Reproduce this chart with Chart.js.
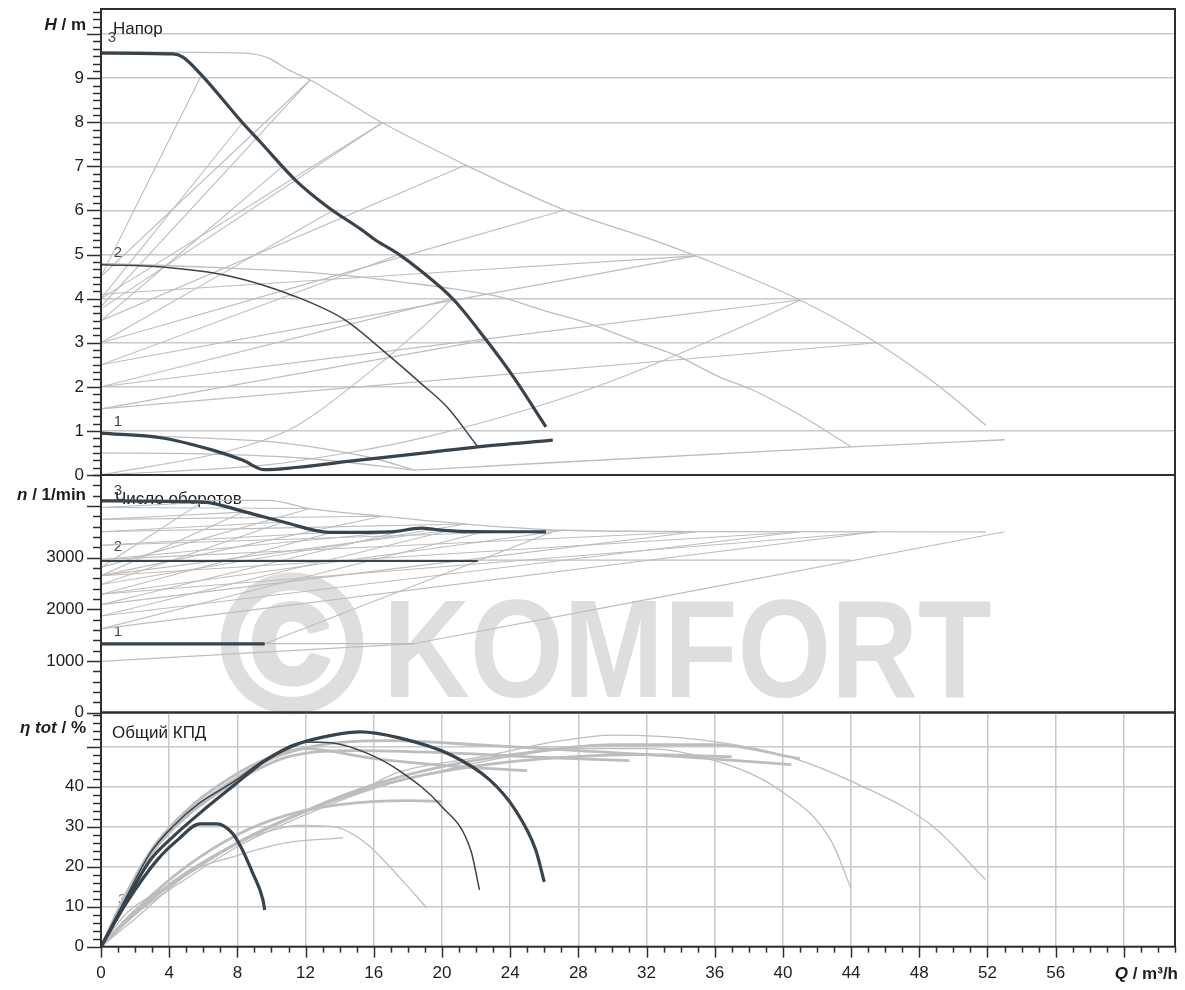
<!DOCTYPE html>
<html>
<head>
<meta charset="utf-8">
<script src="https://cdn.jsdelivr.net/npm/chart.js@4.4.1/dist/chart.umd.min.js"></script>
<style>
html, body { margin: 0; padding: 0; background: #fff; }
body { width: 1185px; height: 990px; position: relative; overflow: hidden; }
canvas { position: absolute; left: 0; }
</style>
</head>
<body>
<canvas id="headChart" width="1185" height="525" style="top:-20px;width:1185px;height:525px"></canvas>
<canvas id="speedChart" width="1185" height="298" style="top:445px;width:1185px;height:298px"></canvas>
<canvas id="effChart" width="1185" height="308" style="top:682px;width:1185px;height:308px"></canvas>
<script>
// ---- head H / m over Q / m³/h ----
const head3 = [[0,9.57],[4.2,9.55],[4.8,9.48],[5.9,9.07],[8.3,7.99],[9.4,7.53],[11.4,6.69],[13.3,6.08],[15.3,5.56],[16.1,5.33],[17.5,5.0],[18.7,4.65],[20.7,3.97],[22.6,3.06],[24.2,2.22],[26.1,1.09]];
const head2 = [[0,4.77],[3.6,4.72],[7.45,4.52],[11.4,4.05],[14.3,3.52],[16.7,2.77],[18.85,2.05],[20.3,1.54],[22.1,0.64]];
const head1 = [[0,0.95],[3.6,0.84],[6.5,0.57],[8.3,0.34],[9.6,0.12],[11.4,0.17],[15,0.33],[19,0.5],[22.1,0.64],[26.5,0.79]];
const headMax = [[0,9.6],[8.45,9.57],[9.8,9.46],[11.0,9.19],[12.27,8.96],[16.5,7.99],[19.0,7.49],[21.4,7.03],[27.2,6.01],[32.4,5.33],[34.9,4.97],[41.0,3.97],[45.5,3.0],[49.2,2.0],[51.9,1.13]];
const headMid = [[0,4.8],[7.1,4.7],[12.7,4.58],[15.7,4.47],[18.0,4.36],[20.7,4.22],[23.4,4.04],[25.9,3.74],[28.5,3.45],[31.2,3.06],[33.8,2.7],[36.3,2.22],[38.1,1.95],[41.0,1.36],[44.0,0.64]];
const headLow = [[0,0.93],[7.1,0.82],[10.1,0.75],[13.0,0.6],[16.0,0.38],[18.4,0.11]];
const headLow2 = [[0,0.5],[6,0.48],[12,0.38],[18.4,0.11]];
const headLimit = [[18.4,0.11],[44.0,0.64],[53.0,0.8]];
const dpvHeadSmall = [[[0,4.5],[5.9,9.07]],[[0,4.0],[8.3,7.99]],[[0,3.5],[10.66,7.0]],[[0,3.0],[13.6,6.0]],[[0,2.5],[17.5,5.0]],[[0,2.0],[20.6,4.0]],[[0,1.5],[22.6,3.06]]];
const dpvHeadBig = [[[0,4.5],[12.27,8.96]],[[0,4.0],[16.5,7.99]],[[0,3.5],[21.4,7.03]],[[0,3.0],[27.2,6.01]],[[0,2.5],[34.9,4.97]],[[0,2.0],[41.0,3.97]],[[0,1.5],[45.5,3.0]]];
const extraHeadLines = [[[0,3.82],[12.27,8.96]],[[0,3.77],[16.5,7.99]],[[0,4.1],[34.9,4.97]]];
const systemHead = [
  [[0,0],[10,0.24],[15,0.54],[18.6,0.82],[25.2,1.51],[30,2.14],[38.1,3.45],[41,3.97]],
  [[0,0],[8,0.6],[11.4,1.1],[15,2.1],[19,3.4],[20.6,4.0]]
];

// ---- speed n / 1/min ----
const speedTicks = [0, 1000, 2000, 3000, 4000];
const speed3 = [[0,4100],[6.0,4075],[8.5,3880],[10.7,3690],[13.4,3490],[17.0,3500],[18.8,3570],[19.6,3545],[21.0,3510],[26.1,3500]];
const speed2 = [[0,2935],[22.1,2935]];
const speed1 = [[0,1330],[9.6,1330]];
const speedMax = [[0,4110],[9.8,4110],[12.27,3950],[16.5,3800],[21.4,3650],[27.2,3530],[34.9,3505],[51.9,3500]];
const speedMid = [[0,2950],[44.0,2950]];
const speedLow = [[0,1335],[18.4,1335]];
const speedLow2 = [[0,990],[18.4,1335]];
const speedLimits = [[[18.4,1335],[53.0,3500]],[[9.6,1330],[26.5,3500]]];
const dpvSpeedSmall = [[[0,2810],[5.9,4070]],[[0,2650],[8.3,3880]],[[0,2480],[10.7,3690]],[[0,2290],[13.6,3490]],[[0,2090],[17.5,3500]],[[0,1870],[20.6,3540]],[[0,1620],[22.6,3510]]];
const dpvSpeedBig = [[[0,2810],[12.27,3950]],[[0,2650],[16.5,3800]],[[0,2480],[21.4,3650]],[[0,2290],[27.2,3530]],[[0,2090],[34.9,3500]],[[0,1870],[41,3500]],[[0,1620],[45.5,3500]]];
const dpcSpeedSmall = [[[0,3970],[5.9,4070]],[[0,3740],[8.3,3880]],[[0,3500],[10.7,3690]],[[0,3240],[13.6,3490]],[[0,2960],[17.5,3500]],[[0,2650],[20.6,3540]]];
const dpcSpeedBig = [[[0,3970],[12.27,3950]],[[0,3740],[16.5,3800]],[[0,3500],[21.4,3650]],[[0,3240],[27.2,3530]],[[0,2960],[34.9,3500]],[[0,2650],[41,3500]],[[0,2290],[45.5,3500]]];

// ---- total efficiency η / % ----
const eff3 = [[0,0],[1.5,11.7],[2.9,21.7],[4.2,27.4],[5.8,33.4],[7.7,40],[9.7,46.7],[11.7,50.9],[13.6,52.9],[15.2,53.7],[17.5,52.2],[20.5,48],[22.8,41.7],[24.3,34.2],[25.5,24.2],[26,16.2]];
const eff2 = [[0,0],[1.5,12.5],[2.9,23.5],[4.2,30],[5.8,36],[7.7,41],[9.7,47],[12,51.2],[13.5,51],[15.6,48.4],[17.5,44],[19.9,35.4],[21.7,24],[22.2,14.2]];
const eff1 = [[0,0],[1.5,11],[3.3,21.7],[4.5,26.7],[5.8,30.7],[6.8,30.7],[7.7,28.4],[8.2,25],[8.9,18.4],[9.5,11.7],[9.6,9.2]];
const effMax = [[0,0],[1.5,8.4],[3.9,15],[7.7,25],[11.7,33.4],[15.6,40],[17.5,43.7],[22.2,47.4],[27,51.5],[30,52.9],[35.2,51.7],[40.4,47.4],[44.5,40.4],[48.7,30.4],[51.9,16.7]];
const effMid = [[0,0],[2,8],[5,17],[8,25],[12,33],[16,39.5],[20,44],[24,47.5],[28,49.5],[32,49.5],[36,46.5],[39.8,39.2],[42.8,26.7],[44,14.5]];
const effLow = [[0,0],[2,8],[4,15],[6,21],[8,26],[10,29],[11.5,30.3],[13.6,30],[15.5,26],[17.5,17.4],[19.1,9.7]];
const effLow2 = [[0,0],[2,7],[5.4,19],[7.7,22.4],[10.9,26],[14.2,27.2]];
const effUpper = [
  [[0,0],[1.5,13],[3,24],[5,33],[7.7,41.5],[10,47],[13,50.5],[17,51.5],[22,50.5],[28,49],[34,47.5],[40.5,45.5]],
  [[0,0],[1.5,12.5],[3,23.5],[5,32.5],[8,41.5],[11,47.5],[15,49],[20,48.5],[26,47.3],[31,46.5]],
  [[0,0],[1.5,13.5],[3,24.5],[5,34],[7.5,42],[10,47.5],[12,49.5],[16,47],[21,45],[25,44]]
];
const effLower = [
  [[0,0],[2,8.5],[5,18.5],[9,28],[13,35.5],[17,41],[21,44.5],[26,47],[32,48],[37,47.5]],
  [[0,0],[2,9],[5,18],[8,26],[12,34],[16,40.5],[20,45],[25,48.5],[30,50.5],[36,50.5],[41,47]],
  [[0,0],[2,9],[5,20],[8,28],[11,33],[14,35.5],[18,36.5],[20,36.3]]
];

const DARK = '#37434d', GRAY = '#bdbdbd', GRID = '#c8c8c8', FRAME = '#2e2e2e', TEXT = '#1e1e1e', LABEL = '#3b4756';
const FONT = "'Liberation Sans', Arial, sans-serif";
Chart.defaults.font.family = FONT;
Chart.defaults.font.size = 17;
Chart.defaults.color = TEXT;

const xy = pts => pts.map(p => ({ x: p[0], y: p[1] }));
const lines = (list, color, width, order) => list.map(pts => ({ data: xy(pts), showLine: true, borderColor: color, borderWidth: width, order }));

function drawParts(ctx, parts, xRight, y) {
  let w = 0;
  parts.forEach(p => { ctx.font = p[1]; w += ctx.measureText(p[0]).width; });
  let x = xRight - w;
  ctx.textAlign = 'left';
  ctx.textBaseline = 'middle';
  parts.forEach(p => { ctx.font = p[1]; ctx.fillText(p[0], x, y); x += ctx.measureText(p[0]).width; });
}

// frame, minor ticks, axis titles, curve labels, watermark
const panelDeco = {
  id: 'panelDeco',
  beforeDatasetsDraw(chart, args, o) {
    const { ctx, chartArea: a, scales } = chart;
    ctx.save();
    if (o.watermark) {
      ctx.fillStyle = '#dedede';
      ctx.strokeStyle = '#dedede';
      ctx.lineWidth = 7;
      ctx.lineJoin = 'round';
      ctx.textBaseline = 'alphabetic';
      ctx.textAlign = 'center';
      ctx.font = 'bold 192px ' + FONT;
      ctx.strokeText('©', a.left + 191, a.top + 235);
      ctx.fillText('©', a.left + 191, a.top + 235);
      ctx.translate(a.left + 282, a.top + 222);
      ctx.scale(0.86, 1);
      ctx.textAlign = 'left';
      ctx.font = 'bold 140px ' + FONT;
      ctx.fillText('KOMFORT', 0, 0);
      ctx.setTransform(1, 0, 0, 1, 0, 0);
    }
    (o.notes || []).forEach(n => {
      ctx.font = n.font || ('15px ' + FONT);
      ctx.fillStyle = n.color || LABEL;
      ctx.textAlign = 'left';
      ctx.textBaseline = 'middle';
      ctx.fillText(n.text, scales.x.getPixelForValue(n.q), scales.y.getPixelForValue(n.v));
    });
    ctx.restore();
  },
  afterDraw(chart, args, o) {
    const { ctx, chartArea: a, scales } = chart;
    const y = scales.y, x = scales.x;
    ctx.save();
    ctx.strokeStyle = FRAME;
    ctx.lineWidth = 1.5;
    const step = o.yStep / o.yDiv;
    for (let i = 0; i * step <= y.max + 1e-9; i++) {
      const py = Math.round(y.getPixelForValue(i * step)) + 0.5;
      const len = i % o.yDiv === 0 ? 14 : 8;
      ctx.beginPath(); ctx.moveTo(a.left - len, py); ctx.lineTo(a.left, py); ctx.stroke();
    }
    if (o.xTicks) {
      for (let q = 0; q <= x.max; q++) {
        const px = Math.round(x.getPixelForValue(q)) + 0.5;
        const len = q % 4 === 0 ? 11 : 6;
        ctx.beginPath(); ctx.moveTo(px, a.bottom); ctx.lineTo(px, a.bottom + len); ctx.stroke();
      }
    }
    ctx.lineWidth = 2;
    ctx.strokeRect(a.left, a.top, a.right - a.left, a.bottom - a.top);
    ctx.fillStyle = TEXT;
    drawParts(ctx, o.title, a.left - 15, a.top + o.titleDy);
    if (o.xTitle) drawParts(ctx, o.xTitle, a.right + 3, a.bottom + 28);
    ctx.restore();
  }
};

function yAxis(max, step, hideFrom, grid, fixedTicks) {
  const axis = {
    type: 'linear', min: 0, max,
    afterFit: s => { s.width = 101; },
    ticks: { stepSize: step, includeBounds: false, padding: 17, callback: v => v >= hideFrom ? '' : v },
    grid: { display: grid, drawTicks: false, color: GRID, lineWidth: 1.5 },
    border: { display: false }
  };
  if (fixedTicks) axis.afterBuildTicks = s => { s.ticks = fixedTicks.map(v => ({ value: v })); };
  return axis;
}

function makeChart(id, datasets, padding, xScale, yScale, deco) {
  return new Chart(document.getElementById(id).getContext('2d'), {
    type: 'scatter',
    data: { datasets },
    options: {
      animation: false, responsive: false, events: [],
      layout: { padding },
      elements: { point: { radius: 0, hoverRadius: 0 }, line: { cubicInterpolationMode: 'monotone', fill: false } },
      plugins: { legend: { display: false }, tooltip: { enabled: false }, panelDeco: deco },
      scales: { x: xScale, y: yScale }
    },
    plugins: [panelDeco]
  });
}

const hiddenX = { type: 'linear', min: 0, max: 63, display: false };
const bold17 = 'bold 17px ' + FONT, ital17 = 'italic bold 17px ' + FONT;

// chart area 9 → 475
makeChart('headChart', [
  ...lines([head3, head1], DARK, 3.2, 0),
  ...lines([head2], DARK, 1.5, 0),
  ...lines([headMax, headMid, headLow, headLow2, headLimit], GRAY, 1.3, 1),
  ...lines(dpvHeadSmall, GRAY, 1.1, 1),
  ...lines(dpvHeadBig, GRAY, 1.1, 1),
  ...lines(extraHeadLines, GRAY, 1.1, 1),
  ...lines(systemHead, GRAY, 1.1, 1)
], { top: 29, bottom: 30, left: 0, right: 10 }, hiddenX, yAxis(10.57, 1, 10, true), {
  yStep: 1, yDiv: 6, title: [['H', ital17], [' / m', bold17]], titleDy: 16,
  notes: [
    { text: 'Напор', q: 0.7, v: 10.1, font: '17px ' + FONT, color: TEXT },
    { text: '3', q: 0.4, v: 9.92 },
    { text: '2', q: 0.75, v: 5.04 },
    { text: '1', q: 0.75, v: 1.2 }
  ]
});

// chart area 475 → 712.5
makeChart('speedChart', [
  ...lines([speed3, speed1], DARK, 3.2, 0),
  ...lines([speed2], DARK, 2, 0),
  ...lines([speedMax, speedMid, speedLow, speedLow2], GRAY, 1.3, 1),
  ...lines(speedLimits, GRAY, 1.1, 1),
  ...lines(dpvSpeedSmall, GRAY, 1.1, 1),
  ...lines(dpvSpeedBig, GRAY, 1.1, 1),
  ...lines(dpcSpeedSmall, GRAY, 1.1, 1),
  ...lines(dpcSpeedBig, GRAY, 1.1, 1)
], { top: 30, bottom: 30.5, left: 0, right: 10 }, hiddenX, yAxis(4600, 1000, 4000, false, speedTicks), {
  yStep: 1000, yDiv: 5, title: [['n', ital17], [' / 1/min', bold17]], titleDy: 20,
  watermark: true,
  notes: [
    { text: '3', q: 0.75, v: 4290 },
    { text: 'Число оборотов', q: 0.82, v: 4120, font: '17px ' + FONT, color: TEXT },
    { text: '2', q: 0.75, v: 3200 },
    { text: '1', q: 0.75, v: 1570 }
  ]
});

// chart area 712.5 → 946.7
makeChart('effChart', [
  ...lines([eff3, eff1], DARK, 3.2, 0),
  ...lines([eff2], DARK, 1.5, 0),
  ...lines([effMax, effMid, effLow, effLow2], GRAY, 1.3, 1),
  ...lines(effUpper, GRAY, 2.8, 1),
  ...lines(effLower, GRAY, 2.8, 1)
], { top: 30.5, bottom: 0, left: 0, right: 10 }, {
  type: 'linear', min: 0, max: 63,
  afterFit: s => { s.height = 43.3; },
  ticks: { stepSize: 4, includeBounds: false, padding: 16, maxRotation: 0, autoSkip: false, callback: v => v <= 56 ? v : '' },
  grid: { color: GRID, lineWidth: 1.5, drawTicks: false },
  border: { display: false }
}, yAxis(58.55, 10, 50, true), {
  yStep: 10, yDiv: 5, xTicks: true,
  title: [['η tot', ital17], [' / %', bold17]], titleDy: 15.5,
  xTitle: [['Q', ital17], [' / m³/h', bold17]],
  notes: [
    { text: 'Общий КПД', q: 0.65, v: 53.4, font: '17px ' + FONT, color: TEXT },
    { text: '3', q: 1.0, v: 11.7, color: '#a0794a' }
  ]
});
</script>
</body>
</html>
